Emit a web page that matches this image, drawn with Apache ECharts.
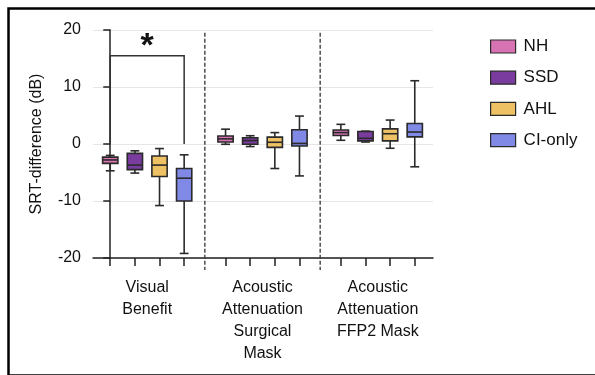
<!DOCTYPE html>
<html>
<head>
<meta charset="utf-8">
<script src="https://cdn.jsdelivr.net/npm/echarts@6/dist/echarts.min.js"></script>
<style>html,body{margin:0;padding:0;background:#fff}#c{width:595px;height:375px}</style>
</head>
<body>
<div id="c"></div>
<script>
// Conditions (x-axis groups)
var conditions = ['Visual\nBenefit', 'Acoustic\nAttenuation\nSurgical\nMask', 'Acoustic\nAttenuation\nFFP2 Mask'];
var groups = ['NH', 'SSD', 'AHL', 'CI-only'];
var groupColors = ['#d873b3', '#7a3c9e', '#eec264', '#8189e6'];
// [min, q1, median, q3, max] per condition
var NH    = [[-4.7, -3.4, -2.8, -2.3, -2.0], [-0.05, 0.35, 0.9, 1.4, 2.6], [0.65, 1.5, 2.0, 2.45, 3.45]];
var SSD   = [[-5.1, -4.5, -3.7, -1.65, -1.2], [-0.45, -0.05, 0.6, 1.1, 1.45], [0.35, 0.55, 1.0, 2.2, 2.25]];
var AHL   = [[-10.8, -5.7, -3.7, -2.1, -0.8], [-4.3, -0.6, 0.3, 1.2, 2.0], [-0.75, 0.55, 1.8, 2.65, 4.2]];
var CIonly= [[-19.2, -10.0, -6.0, -4.3, -1.9], [-5.6, -0.35, 0.1, 2.5, 4.9], [-4.0, 1.25, 2.1, 3.6, 11.1]];
var yTicks = [-20, -10, 0, 10, 20];
// significance bracket: condition 0, between NH and CI-only, height and leg bottom
var sigBracket = {cond: 0, from: 0, to: 3, top: 15.5, bottom: 0, label: '*'};

var allData = [NH, SSD, AHL, CIonly];
var groupStep = 4.68;   // slot units between condition groups
function pos(c, g) { return c * groupStep + g; }

var tickVals = [];
for (var c = 0; c < conditions.length; c++) for (var g = 0; g < groups.length; g++) tickVals.push(pos(c, g));
var labelVals = conditions.map(function (_, c) { return pos(c, 1.5); });
var sepVals = [pos(0, 3) + (groupStep - 3) / 2, pos(1, 3) + (groupStep - 3) / 2];

var BOXW = 0.31, CAPW = 0.18;
function boxRender(params, api) {
  var x = api.value(0);
  var mn = api.coord([x, api.value(1)]), q1 = api.coord([x, api.value(2)]),
      md = api.coord([x, api.value(3)]), q3 = api.coord([x, api.value(4)]), mx = api.coord([x, api.value(5)]);
  var l = api.coord([x - BOXW, 0])[0], r = api.coord([x + BOXW, 0])[0];
  var cl = api.coord([x - CAPW, 0])[0], cr = api.coord([x + CAPW, 0])[0];
  var cx = mn[0];
  var fill = api.visual('color');
  var st = {stroke: '#2a2a2a', lineWidth: 1.6, fill: null};
  return {
    type: 'group',
    children: [
      {type: 'line', shape: {x1: cx, y1: q3[1], x2: cx, y2: mx[1]}, style: st},
      {type: 'line', shape: {x1: cx, y1: q1[1], x2: cx, y2: mn[1]}, style: st},
      {type: 'line', shape: {x1: cl, y1: mx[1], x2: cr, y2: mx[1]}, style: st},
      {type: 'line', shape: {x1: cl, y1: mn[1], x2: cr, y2: mn[1]}, style: st},
      {type: 'rect', shape: {x: l, y: q3[1], width: r - l, height: q1[1] - q3[1]},
        style: {fill: fill, stroke: '#2a2a2a', lineWidth: 1.6}},
      {type: 'line', shape: {x1: l, y1: md[1], x2: r, y2: md[1]}, style: st}
    ]
  };
}

var series = groups.map(function (name, g) {
  return {
    name: name,
    type: 'custom',
    renderItem: boxRender,
    itemStyle: {color: groupColors[g], borderColor: '#2a2a2a', borderWidth: 1.2},
    encode: {x: 0, y: [1, 2, 3, 4, 5]},
    data: allData[g].map(function (d, c) { return [pos(c, g)].concat(d); }),
    z: 3
  };
});

// dashed separators
series.push({
  type: 'custom', silent: true, clip: false, z: 2,
  renderItem: function (params, api) {
    var top = api.coord([api.value(0), 19.5]);
    var bot = api.coord([api.value(0), -20]);
    return {type: 'line', shape: {x1: top[0], y1: top[1], x2: bot[0], y2: bot[1] + 12},
      style: {stroke: '#333', lineWidth: 1.3, lineDash: [4, 2]}};
  },
  encode: {x: 0, y: 1},
  data: sepVals.map(function (v) { return [v, 0]; })
});

// significance bracket + star
series.push({
  type: 'custom', silent: true, clip: false, z: 4,
  renderItem: function (params, api) {
    var a = api.coord([pos(sigBracket.cond, sigBracket.from), sigBracket.bottom]);
    var b = api.coord([pos(sigBracket.cond, sigBracket.from), sigBracket.top]);
    var c2 = api.coord([pos(sigBracket.cond, sigBracket.to), sigBracket.top]);
    var d = api.coord([pos(sigBracket.cond, sigBracket.to), sigBracket.bottom]);
    return {type: 'group', children: [
      {type: 'polyline', shape: {points: [a, b, c2, d]}, style: {stroke: '#333', lineWidth: 1.5, fill: null}},
      {type: 'text', x: (b[0] + c2[0]) / 2, y: b[1] - 26,
        style: {text: sigBracket.label, fontSize: 34, fontWeight: 'bold', fill: '#111', align: 'center', verticalAlign: 'top', fontFamily: 'Liberation Sans'}}
    ]};
  },
  encode: {x: 0, y: 1},
  data: [[pos(sigBracket.cond, 1.5), sigBracket.top]]
});

var chart = echarts.init(document.getElementById('c'), null, {renderer: 'canvas'});
chart.setOption({
  animation: false,
  backgroundColor: '#fff',
  textStyle: {fontFamily: 'Liberation Sans'},
  graphic: [{type: 'rect', left: 6, top: 6, shape: {width: 620, height: 367},
    style: {fill: null, stroke: '#000', lineWidth: 2.5}, silent: true}],
  grid: {left: 93, right: 162, top: 30, bottom: 117},
  legend: {
    orient: 'vertical', left: 485, top: 33, itemWidth: 25, itemHeight: 13, itemGap: 14.2,
    icon: 'rect', data: groups,
    itemStyle: {borderColor: '#2a2a2a', borderWidth: 1.2},
    textStyle: {fontSize: 17, color: '#111', padding: [0, 0, 0, 3], fontFamily: 'Liberation Sans'}
  },
  xAxis: {
    type: 'value', min: -0.7, max: 13.1,
    splitLine: {show: false},
    axisLine: {show: true, onZero: false, lineStyle: {color: '#222', width: 1.5}},
    axisTick: {show: true, length: 8, inside: false, lineStyle: {color: '#222', width: 1.5}, customValues: tickVals},
    axisLabel: {
      customValues: labelVals, fontSize: 16, color: '#111', lineHeight: 22, margin: 19, align: 'center',
      formatter: function (v) {
        for (var i = 0; i < labelVals.length; i++) if (Math.abs(labelVals[i] - v) < 1e-6) return conditions[i];
        return '';
      }
    }
  },
  yAxis: {
    type: 'value', min: yTicks[0], max: yTicks[yTicks.length - 1], interval: 10,
    name: 'SRT-difference (dB)', nameLocation: 'middle', nameGap: 48, nameRotate: 90,
    nameTextStyle: {fontSize: 16, color: '#111'},
    axisLine: {show: true, lineStyle: {color: '#222', width: 1.5}},
    axisTick: {show: true, length: 7, lineStyle: {color: '#222', width: 1.5}},
    axisLabel: {fontSize: 16, color: '#111', margin: 12},
    splitLine: {show: true, lineStyle: {color: '#e6e6e6', width: 1}}
  },
  series: series
});
</script>
</body>
</html>
